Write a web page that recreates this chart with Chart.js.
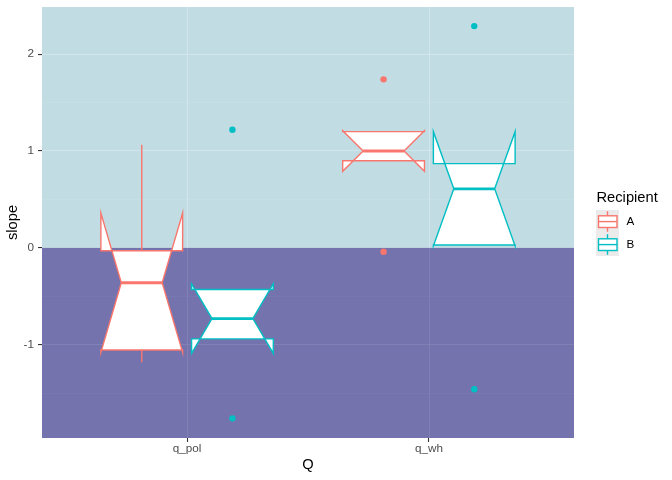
<!DOCTYPE html>
<html>
<head>
<meta charset="utf-8">
<script src="https://cdn.jsdelivr.net/npm/chart.js@4.4.0/dist/chart.umd.min.js"></script>
<style>
  html, body { margin: 0; padding: 0; background: #fff; }
  #wrap { width: 672px; height: 480px; }
</style>
</head>
<body>
<div id="wrap"><canvas id="chart" width="672" height="480"></canvas></div>
<script>
// Data
const categories = ['q_pol', 'q_wh'];
const groups = ['A', 'B'];
const groupColors = ['#F8766D', '#00BFC4'];
const yMajorTicks = [-1, 0, 1, 2];
const yMinorTicks = [-1.5, -0.5, 0.5, 1.5];

// box stats, one value per category
const aYmin = [-1.18, 0.90];
const aLower = [-1.055, 0.90];
const aMiddle = [-0.36, 1.00];
const aUpper = [-0.03, 1.20];
const aYmax = [1.065, 1.20];
const aNotchLower = [-1.08, 0.79];
const aNotchUpper = [0.36, 1.21];

const bYmin = [-0.94, 0.03];
const bLower = [-0.94, 0.03];
const bMiddle = [-0.73, 0.61];
const bUpper = [-0.43, 0.87];
const bYmax = [-0.43, 0.87];
const bNotchLower = [-1.09, 0.02];
const bNotchUpper = [-0.37, 1.20];

// outliers (category index 1-based, value)
const aOutCat = [2, 2];
const aOutVal = [1.74, -0.04];
const bOutCat = [1, 1, 2, 2];
const bOutVal = [1.22, -1.76, 2.29, -1.46];

const splitValue = 0; // background changes colour here

const boxStats = [
  { ymin: aYmin, lower: aLower, middle: aMiddle, upper: aUpper, ymax: aYmax, nlo: aNotchLower, nhi: aNotchUpper },
  { ymin: bYmin, lower: bLower, middle: bMiddle, upper: bUpper, ymax: bYmax, nlo: bNotchLower, nhi: bNotchUpper }
];

const dodge = [-0.1875, 0.1875];
const boxHalf = 0.169;
const FONT = '"Liberation Sans", Arial, Helvetica, sans-serif';

const boxPlugin = {
  id: 'boxes',
  beforeDraw(chart) {
    const { ctx, chartArea: a, scales: { y } } = chart;
    const y0 = y.getPixelForValue(splitValue);
    ctx.save();
    ctx.fillStyle = '#C2DCE3';
    ctx.fillRect(a.left, a.top, a.right - a.left, y0 - a.top);
    ctx.fillStyle = '#7473AE';
    ctx.fillRect(a.left, y0, a.right - a.left, a.bottom - y0);
    ctx.restore();
  },
  beforeDatasetsDraw(chart) {
    const { ctx, chartArea: a, scales: { x, y } } = chart;
    const y0 = y.getPixelForValue(splitValue);
    ctx.save();
    // vertical grid lines, two tones
    x.ticks.forEach(t => {
      const px = Math.round(x.getPixelForValue(t.value)) + 0.5;
      ctx.lineWidth = 1.1;
      ctx.strokeStyle = '#D2E5EA';
      ctx.beginPath(); ctx.moveTo(px, a.top); ctx.lineTo(px, y0); ctx.stroke();
      ctx.strokeStyle = '#8080B5';
      ctx.beginPath(); ctx.moveTo(px, y0); ctx.lineTo(px, a.bottom); ctx.stroke();
    });

    // boxes
    boxStats.forEach((s, g) => {
      categories.forEach((c, i) => {
        const xc = i + 1 + dodge[g];
        const cx = x.getPixelForValue(xc);
        const xmin = x.getPixelForValue(xc - boxHalf);
        const xmax = x.getPixelForValue(xc + boxHalf);
        const inset = (xmax - xmin) / 4;
        const py = v => y.getPixelForValue(v);
        ctx.strokeStyle = groupColors[g];
        ctx.lineWidth = 1.4;
        ctx.lineJoin = 'miter';
        // whiskers
        ctx.beginPath();
        ctx.moveTo(cx, py(s.upper[i])); ctx.lineTo(cx, py(s.ymax[i]));
        ctx.moveTo(cx, py(s.lower[i])); ctx.lineTo(cx, py(s.ymin[i]));
        ctx.stroke();
        // notched box
        ctx.beginPath();
        ctx.moveTo(xmin, py(s.upper[i]));
        ctx.lineTo(xmin, py(s.nhi[i]));
        ctx.lineTo(xmin + inset, py(s.middle[i]));
        ctx.lineTo(xmin, py(s.nlo[i]));
        ctx.lineTo(xmin, py(s.lower[i]));
        ctx.lineTo(xmax, py(s.lower[i]));
        ctx.lineTo(xmax, py(s.nlo[i]));
        ctx.lineTo(xmax - inset, py(s.middle[i]));
        ctx.lineTo(xmax, py(s.nhi[i]));
        ctx.lineTo(xmax, py(s.upper[i]));
        ctx.closePath();
        ctx.fillStyle = '#FFFFFF';
        ctx.fill();
        ctx.stroke();
        // median
        ctx.lineWidth = 2.8;
        ctx.beginPath();
        ctx.moveTo(xmin + inset, py(s.middle[i]));
        ctx.lineTo(xmax - inset, py(s.middle[i]));
        ctx.stroke();
      });
    });
    ctx.restore();
  },
  afterDraw(chart) {
    const { ctx } = chart;
    ctx.save();
    ctx.fillStyle = '#000000';
    ctx.font = '14.7px ' + FONT;
    ctx.textBaseline = 'alphabetic';
    ctx.textAlign = 'left';
    ctx.fillText('Recipient', 596.5, 202);
    groups.forEach((g, k) => {
      const top = 210 + k * 23;
      ctx.fillStyle = '#EBEBEB';
      ctx.fillRect(596, top, 23, 23);
      ctx.strokeStyle = groupColors[k];
      ctx.lineWidth = 1.4;
      const cx = 607.5;
      ctx.beginPath();
      ctx.moveTo(cx, top + 1.2); ctx.lineTo(cx, top + 5.8);
      ctx.moveTo(cx, top + 17.5); ctx.lineTo(cx, top + 21.8);
      ctx.stroke();
      ctx.fillStyle = '#FFFFFF';
      ctx.fillRect(598.5, top + 5.8, 18.5, 11.7);
      ctx.strokeRect(598.5, top + 5.8, 18.5, 11.7);
      ctx.beginPath();
      ctx.moveTo(598.5, top + 11.6); ctx.lineTo(617, top + 11.6);
      ctx.stroke();
      ctx.fillStyle = '#000000';
      ctx.font = '11.7px ' + FONT;
      ctx.textBaseline = 'middle';
      ctx.fillText(g, 626.5, top + 11.8);
    });
    ctx.restore();
  }
};

const ctx = document.getElementById('chart').getContext('2d');
new Chart(ctx, {
  type: 'scatter',
  data: {
    datasets: [
      {
        label: groups[0],
        data: aOutCat.map((c, i) => ({ x: c + dodge[0], y: aOutVal[i] })),
        backgroundColor: groupColors[0],
        borderWidth: 0,
        pointRadius: 3.2
      },
      {
        label: groups[1],
        data: bOutCat.map((c, i) => ({ x: c + dodge[1], y: bOutVal[i] })),
        backgroundColor: groupColors[1],
        borderWidth: 0,
        pointRadius: 3.2
      }
    ]
  },
  options: {
    responsive: false,
    animation: false,
    layout: { padding: { top: 0, right: 98, left: 0, bottom: 0 } },
    plugins: { legend: { display: false }, tooltip: { enabled: false } },
    scales: {
      x: {
        type: 'linear',
        min: 0.4,
        max: 2.6,
        afterBuildTicks: s => { s.ticks = categories.map((c, i) => ({ value: i + 1 })); },
        afterFit: s => { s.height = 42; },
        border: { display: false },
        grid: { drawOnChartArea: false, tickLength: 4, tickColor: '#333333', tickWidth: 1.1 },
        ticks: {
          callback: v => categories[Math.round(v) - 1],
          color: '#4D4D4D',
          font: { family: FONT, size: 11.7 },
          padding: 0,
          autoSkip: false,
          maxRotation: 0
        },
        title: {
          display: true,
          text: 'Q',
          color: '#000000',
          font: { family: FONT, size: 14.7 },
          padding: { top: 0, bottom: 6 }
        }
      },
      y: {
        type: 'linear',
        min: -1.963,
        max: 2.487,
        afterBuildTicks: s => {
          s.ticks = yMinorTicks.concat(yMajorTicks).sort((p, q) => p - q).map(v => ({ value: v }));
        },
        afterFit: s => { s.width = 42; s.paddingTop = 7; s.paddingBottom = 0; },
        border: { display: false },
        grid: {
          tickLength: 4,
          tickWidth: 1.1,
          tickColor: c => Number.isInteger(c.tick.value) ? '#333333' : 'rgba(0,0,0,0)',
          lineWidth: c => Number.isInteger(c.tick.value) ? 1.1 : 0.55,
          color: c => {
            const v = c.tick.value;
            if (v === splitValue) return 'rgba(0,0,0,0)';
            const major = Number.isInteger(v);
            if (v > splitValue) return major ? '#D2E5EA' : '#CAE1E7';
            return major ? '#8080B5' : '#7A7AB2';
          }
        },
        ticks: {
          callback: v => Number.isInteger(v) ? String(v) : '',
          color: '#4D4D4D',
          font: { family: FONT, size: 11.7 },
          padding: 4,
          autoSkip: false
        },
        title: {
          display: true,
          text: 'slope',
          color: '#000000',
          font: { family: FONT, size: 14.7 },
          padding: { top: 4.5, bottom: 0 }
        }
      }
    }
  },
  plugins: [boxPlugin]
});
</script>
</body>
</html>
